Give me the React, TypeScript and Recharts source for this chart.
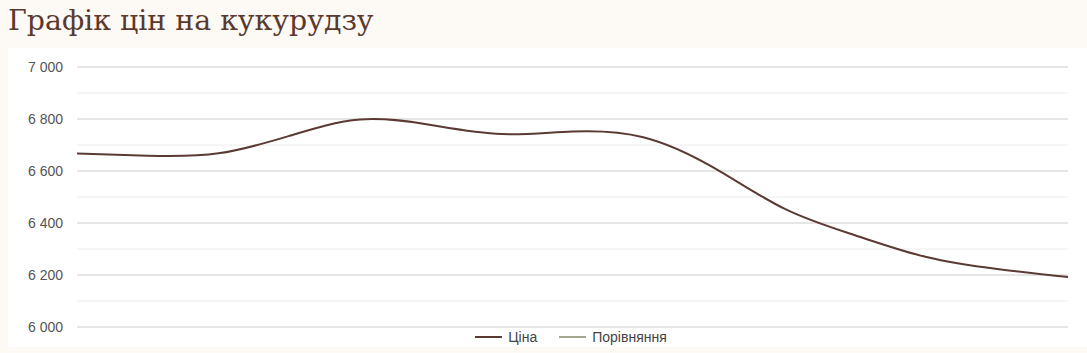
import { LineChart, Line, XAxis, YAxis, CartesianGrid, ReferenceLine, Legend } from "recharts";

// points along the hidden x axis
const days = ["1", "2", "3", "4", "5", "6", "7", "8", "9", "10", "11", "12", "13", "14", "15"];
const price = [6667, 6659, 6668, 6735, 6798, 6777, 6742, 6752, 6730, 6612, 6454, 6352, 6269, 6223, 6192];
const compare: (number | null)[] = days.map(() => null);

const majorTicks = [6000, 6200, 6400, 6600, 6800, 7000];
const minorTicks = [6100, 6300, 6500, 6700, 6900];

const PRICE_COLOR = "#5b3a33";
const COMPARE_COLOR = "#a4a892";

const data = days.map((d, i) => ({ day: d, price: price[i], compare: compare[i] }));

const fmt = (v: number) => String(v).replace(/\B(?=(\d{3})+(?!\d))/g, " ");

const LegendContent = () => {
  const items = [
    { label: "Ціна", color: PRICE_COLOR },
    { label: "Порівняння", color: COMPARE_COLOR },
  ];
  return (
    <div style={{ display: "flex", justifyContent: "center", alignItems: "center", height: 20, paddingLeft: 66 }}>
      {items.map((it) => (
        <div key={it.label} style={{ display: "flex", alignItems: "center", margin: "0 11px" }}>
          <span style={{ display: "inline-block", width: 27, height: 2, background: it.color, marginRight: 6 }} />
          <span style={{ fontFamily: "'Liberation Sans', Arial, sans-serif", fontSize: 14, color: "#444" }}>{it.label}</span>
        </div>
      ))}
    </div>
  );
};

export default function App() {
  return (
    <div style={{ position: "fixed", left: 0, top: 0, width: 1087, height: 353, background: "#fdf9f5", overflow: "hidden" }}>
      <div
        style={{
          position: "absolute",
          left: 8,
          top: 4,
          fontFamily: "'DejaVu Serif', serif",
          fontSize: 28.4,
          color: "#5a392f",
          whiteSpace: "nowrap",
        }}
      >
        Графік цін на кукурудзу
      </div>
      <div style={{ position: "absolute", left: 8, top: 48, width: 1079, height: 299, background: "#fff" }}>
        <LineChart width={1079} height={299} data={data} margin={{ top: 19, right: 19, bottom: 0, left: 0 }}>
          <CartesianGrid vertical={false} stroke="#cccccc" />
          {minorTicks.map((t) => (
            <ReferenceLine key={t} y={t} stroke="#ececec" />
          ))}
          <XAxis dataKey="day" hide />
          <YAxis
            domain={[6000, 7000]}
            ticks={majorTicks}
            width={69}
            axisLine={false}
            tickLine={false}
            tickSize={0}
            tickMargin={14}
            tickFormatter={fmt}
            tick={{ fill: "#555", fontSize: 14, fontFamily: "'Liberation Sans', Arial, sans-serif" }}
          />
          <Legend verticalAlign="bottom" height={20} content={<LegendContent />} />
          <Line
            type="natural"
            dataKey="price"
            name="Ціна"
            stroke={PRICE_COLOR}
            strokeWidth={2}
            dot={false}
            isAnimationActive={false}
          />
          <Line
            type="natural"
            dataKey="compare"
            name="Порівняння"
            stroke={COMPARE_COLOR}
            strokeWidth={2}
            dot={false}
            isAnimationActive={false}
          />
        </LineChart>
      </div>
    </div>
  );
}
